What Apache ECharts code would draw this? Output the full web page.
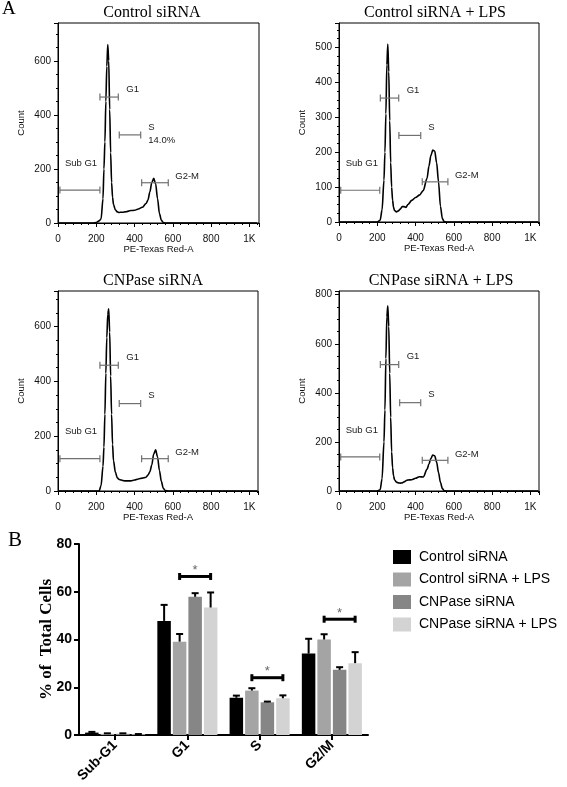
<!DOCTYPE html>
<html><head><meta charset="utf-8">
<script src="https://cdn.jsdelivr.net/npm/echarts@6/dist/echarts.min.js"></script>
<style>html,body{margin:0;padding:0;background:#fff}#c{width:567px;height:787px}</style>
</head><body><div id="c"></div>
<script>
// ---------- Panel A: DNA content histograms ----------
const PANEL_TITLES = ['Control siRNA', 'Control siRNA + LPS', 'CNPase siRNA', 'CNPase siRNA + LPS'];
const CHANNEL = [0,180,200,215,225,235,240,245,250,255,260,265,270,275,280,285,290,300,310,320,330,340,350,360,380,400,420,440,460,470,480,490,500,510,520,530,540,550,560,580,1040];
const COUNT_CTRL     = [0,0,2,8,15,90,200,300,450,580,660,600,420,260,150,95,68,48,41,39,40,40,41,42,46,47,52,58,72,85,115,150,165,145,90,35,10,2,0,0,0];
const COUNT_CTRL_LPS = [0,0,0,5,35,120,200,310,450,510,430,290,170,100,62,42,33,29,32,37,44,44,42,50,62,70,77,90,125,160,190,206,203,170,115,45,10,1,0,0,0];
const COUNT_CNP      = [0,0,0,0,20,90,160,280,430,560,645,665,580,420,280,170,110,68,48,42,40,38,37,37,37,40,44,47,50,58,70,95,135,150,125,75,35,10,2,0,0];
const COUNT_CNP_LPS  = [0,0,0,5,50,200,330,540,710,755,670,480,300,160,95,62,46,36,33,32,33,37,42,45,46,52,58,57,88,110,132,147,143,118,75,35,10,1,0,0,0];
const COUNTS = [COUNT_CTRL, COUNT_CTRL_LPS, COUNT_CNP, COUNT_CNP_LPS];
const Y_MAX = [740, 570, 730, 815];
const Y_STEP = [200, 100, 200, 200];
const X_MAX = [1050, 1045, 1045, 1045];
const X_STEP = 200;
const GATE_NAMES = ['Sub G1', 'G1', 'S', 'G2-M'];
const GATES_CTRL     = [[10,219,122],[219,315,466],[320,432,326],[437,576,149]];
const GATES_CTRL_LPS = [[9,213,91],[216,312,355],[313,427,248],[435,569,115]];
const GATES_CNP      = [[10,219,118],[219,315,459],[320,432,319],[437,576,118]];
const GATES_CNP_LPS  = [[9,213,139],[216,312,515],[317,427,360],[435,569,125]];
const GATES = [GATES_CTRL, GATES_CTRL_LPS, GATES_CNP, GATES_CNP_LPS];
const S_PERCENT = ['14.0%', '', '', ''];

// ---------- Panel B: cell-cycle distribution ----------
const PHASES = ['Sub-G1', 'G1', 'S', 'G2/M'];
const GROUPS = ['Control siRNA', 'Control siRNA + LPS', 'CNPase siRNA', 'CNPase siRNA + LPS'];
const MEAN_CTRL     = [1.0, 47.8, 15.6, 34.1];
const SEM_CTRL      = [0.3, 6.7, 0.9, 6.2];
const MEAN_CTRL_LPS = [0.5, 39.1, 18.6, 40.0];
const SEM_CTRL_LPS  = [0.2, 3.2, 1.0, 2.2];
const MEAN_CNP      = [0.5, 57.9, 13.7, 27.3];
const SEM_CNP       = [0.2, 1.5, 0.3, 1.1];
const MEAN_CNP_LPS  = [0.3, 53.4, 15.4, 30.1];
const SEM_CNP_LPS   = [0.1, 6.3, 1.2, 4.6];
const MEANS = [MEAN_CTRL, MEAN_CTRL_LPS, MEAN_CNP, MEAN_CNP_LPS];
const SEMS = [SEM_CTRL, SEM_CTRL_LPS, SEM_CNP, SEM_CNP_LPS];
const SIG_PHASE = [1, 2, 3];
const SIG_LEVEL = [66.4, 24.0, 48.5];
const Y_TICKS_B = [0, 80, 20];

// ---------- styling / layout ----------
const SANS = '"Liberation Sans", Arial, Helvetica, sans-serif';
const SERIF = '"Liberation Serif", "Times New Roman", serif';
const BAR_COLORS = ['#000000', '#a4a4a4', '#868686', '#d3d3d3'];
const BAR_W = 13.5, BAR_STEP = 15.5;
const HIST_GRIDS = [
  {left: 58, top: 23, width: 201, height: 200},
  {left: 339, top: 23, width: 200, height: 199},
  {left: 58, top: 291, width: 200, height: 200},
  {left: 339, top: 291, width: 200, height: 200}
];
const TITLE_POS = [[152, 5], [435, 5], [153, 273], [441, 273]];

const grids = [], xAxes = [], yAxes = [], series = [], titles = [];
titles.push({text: 'A', left: 2, top: 0, padding: 0, textStyle: {fontFamily: SERIF, fontSize: 19, fontWeight: 'normal', color: '#000'}});
titles.push({text: 'B', left: 8, top: 530, padding: 0, textStyle: {fontFamily: SERIF, fontSize: 21, fontWeight: 'normal', color: '#000'}});

function gateRender(panel) {
  return function (params, api) {
    const x1 = api.value(0), x2 = api.value(1), y = api.value(2);
    const a = api.coord([x1, y]), b = api.coord([x2, y]);
    const name = GATE_NAMES[params.dataIndex];
    const st = {stroke: '#707070', lineWidth: 1.2};
    const kids = [
      {type: 'line', shape: {x1: a[0], y1: a[1], x2: b[0], y2: b[1]}, style: st},
      {type: 'line', shape: {x1: a[0], y1: a[1] - 3.5, x2: a[0], y2: a[1] + 3.5}, style: st},
      {type: 'line', shape: {x1: b[0], y1: b[1] - 3.5, x2: b[0], y2: b[1] + 3.5}, style: st}
    ];
    let tx, ty;
    if (name === 'Sub G1') { tx = a[0] + 5; ty = a[1] - 27; }
    else if (name === 'G1') { tx = b[0] + 8; ty = b[1] - 8; }
    else if (name === 'S') { tx = b[0] + 7.5; ty = b[1] - 8; }
    else { tx = b[0] + 7; ty = b[1] - 6; }
    const ts = {fill: '#1a1a1a', fontSize: 9.5, fontFamily: SANS, align: 'left', verticalAlign: 'middle'};
    kids.push({type: 'text', style: Object.assign({x: tx, y: ty, text: name}, ts)});
    if (name === 'S' && S_PERCENT[panel]) {
      kids.push({type: 'text', style: Object.assign({x: tx, y: b[1] + 5, text: S_PERCENT[panel]}, ts)});
    }
    return {type: 'group', children: kids};
  };
}

for (let i = 0; i < 4; i++) {
  grids.push(Object.assign({show: true, borderColor: '#000', borderWidth: 1, backgroundColor: 'transparent'}, HIST_GRIDS[i]));
  titles.push({text: PANEL_TITLES[i], left: TITLE_POS[i][0], top: TITLE_POS[i][1], textAlign: 'center', padding: 0,
    textStyle: {fontFamily: SERIF, fontSize: 16, fontWeight: 'normal', color: '#000'}});
  xAxes.push({
    type: 'value', gridIndex: i, min: 0, max: X_MAX[i], interval: X_STEP,
    axisLine: {show: true, lineStyle: {color: '#000', width: 1}},
    axisTick: {show: true, inside: false, length: 4, lineStyle: {color: '#000'}},
    minorTick: {show: true, splitNumber: 5, length: 2, lineStyle: {color: '#000'}},
    splitLine: {show: false}, minorSplitLine: {show: false},
    axisLabel: {fontSize: 10, color: '#111', fontFamily: SANS, margin: 11,
      formatter: v => v === 1000 ? '1K' : (v % X_STEP === 0 ? String(v) : '')},
    name: 'PE-Texas Red-A', nameLocation: 'middle', nameGap: 21, nameMoveOverlap: false,
    nameTextStyle: {fontSize: 9.5, color: '#111', fontFamily: SANS}
  });
  yAxes.push({
    type: 'value', gridIndex: i, min: 0, max: Y_MAX[i], interval: Y_STEP[i],
    axisLine: {show: true, lineStyle: {color: '#000', width: 1}},
    axisTick: {show: true, inside: false, length: 4, lineStyle: {color: '#000'}},
    minorTick: {show: true, splitNumber: 4, length: 2, lineStyle: {color: '#000'}},
    splitLine: {show: false}, minorSplitLine: {show: false},
    axisLabel: {fontSize: 10, color: '#111', fontFamily: SANS, margin: 7,
      formatter: (v => (v % Y_STEP[i] === 0 ? String(v) : ''))},
    name: 'Count', nameLocation: 'middle', nameGap: 32, nameMoveOverlap: false,
    nameTextStyle: {fontSize: 9.5, color: '#111', fontFamily: SANS}
  });
  series.push({
    type: 'line', xAxisIndex: i, yAxisIndex: i, showSymbol: false, symbol: 'none',
    smooth: 0.3, smoothMonotone: 'x',
    lineStyle: {color: '#000', width: 1.6}, z: 3,
    data: CHANNEL.map((c, k) => [c, COUNTS[i][k]])
  });
  series.push({
    type: 'custom', xAxisIndex: i, yAxisIndex: i, renderItem: gateRender(i), clip: false, z: 4,
    encode: {x: [0, 1], y: 2},
    data: GATES[i]
  });
}

// Panel B grid
grids.push({left: 79, top: 544, width: 289, height: 191, show: false});
xAxes.push({
  type: 'category', gridIndex: 4, data: PHASES,
  axisLine: {show: true, lineStyle: {color: '#000', width: 2}},
  axisTick: {show: true, alignWithLabel: true, inside: false, length: 5, lineStyle: {color: '#000', width: 2}},
  axisLabel: {rotate: 45, interval: 0, fontSize: 14, fontWeight: 'bold', color: '#000', fontFamily: SANS, margin: 8},
  splitLine: {show: false}
});
yAxes.push({
  type: 'value', gridIndex: 4, min: Y_TICKS_B[0], max: Y_TICKS_B[1], interval: Y_TICKS_B[2],
  axisLine: {show: true, lineStyle: {color: '#000', width: 2}},
  axisTick: {show: true, inside: false, length: 5, lineStyle: {color: '#000', width: 2}},
  axisLabel: {fontSize: 14, fontWeight: 'bold', color: '#000', fontFamily: SANS, margin: 7},
  splitLine: {show: false},
  name: '% of  Total Cells', nameLocation: 'middle', nameGap: 24, nameMoveOverlap: false,
  nameTextStyle: {fontSize: 17, fontWeight: 'bold', color: '#000', fontFamily: SERIF}
});
for (let s = 0; s < 4; s++) {
  series.push({
    type: 'bar', name: GROUPS[s], xAxisIndex: 4, yAxisIndex: 4,
    barWidth: BAR_W, barGap: '15%',
    itemStyle: {color: BAR_COLORS[s]},
    data: MEANS[s]
  });
}
const errData = [];
for (let s = 0; s < 4; s++) for (let c = 0; c < 4; c++) errData.push([c, MEANS[s][c], SEMS[s][c], s]);
series.push({
  type: 'custom', xAxisIndex: 4, yAxisIndex: 4, z: 5, clip: false,
  encode: {x: 0, y: 1},
  renderItem: function (params, api) {
    const c = api.value(0), m = api.value(1), e = api.value(2), s = api.value(3);
    const off = (s - 1.5) * BAR_STEP;
    const p0 = api.coord([c, m]), p1 = api.coord([c, m + e]);
    const x = p0[0] + off;
    const st = {stroke: '#000', lineWidth: 2};
    return {type: 'group', children: [
      {type: 'line', shape: {x1: x, y1: p0[1], x2: x, y2: p1[1]}, style: st},
      {type: 'line', shape: {x1: x - 3.5, y1: p1[1], x2: x + 3.5, y2: p1[1]}, style: st}
    ]};
  },
  data: errData
});
series.push({
  type: 'custom', xAxisIndex: 4, yAxisIndex: 4, z: 5, clip: false,
  encode: {x: 0, y: 1},
  renderItem: function (params, api) {
    const c = api.value(0), v = api.value(1);
    const p = api.coord([c, v]);
    const xa = p[0] + (1 - 1.5) * BAR_STEP, xb = p[0] + (3 - 1.5) * BAR_STEP;
    const st = {stroke: '#000', lineWidth: 3};
    return {type: 'group', children: [
      {type: 'line', shape: {x1: xa, y1: p[1], x2: xb, y2: p[1]}, style: st},
      {type: 'line', shape: {x1: xa, y1: p[1] - 3.5, x2: xa, y2: p[1] + 3.5}, style: st},
      {type: 'line', shape: {x1: xb, y1: p[1] - 3.5, x2: xb, y2: p[1] + 3.5}, style: st},
      {type: 'text', style: {x: (xa + xb) / 2, y: p[1] - 6, text: '*', fill: '#666', fontSize: 13, fontFamily: SANS, align: 'center', verticalAlign: 'middle'}}
    ]};
  },
  data: SIG_PHASE.map((c, k) => [c, SIG_LEVEL[k]])
});

const chart = echarts.init(document.getElementById('c'), null, {renderer: 'canvas'});
chart.setOption({
  animation: false,
  backgroundColor: '#fff',
  title: titles,
  legend: {
    data: GROUPS, orient: 'vertical', left: 393, top: 550, padding: 0,
    itemWidth: 18, itemHeight: 14, itemGap: 8.5, icon: 'rect', selectedMode: false,
    textStyle: {fontSize: 14, color: '#000', fontFamily: SANS, padding: [0, 0, 0, 3]}
  },
  grid: grids, xAxis: xAxes, yAxis: yAxes, series: series
});
</script></body></html>
